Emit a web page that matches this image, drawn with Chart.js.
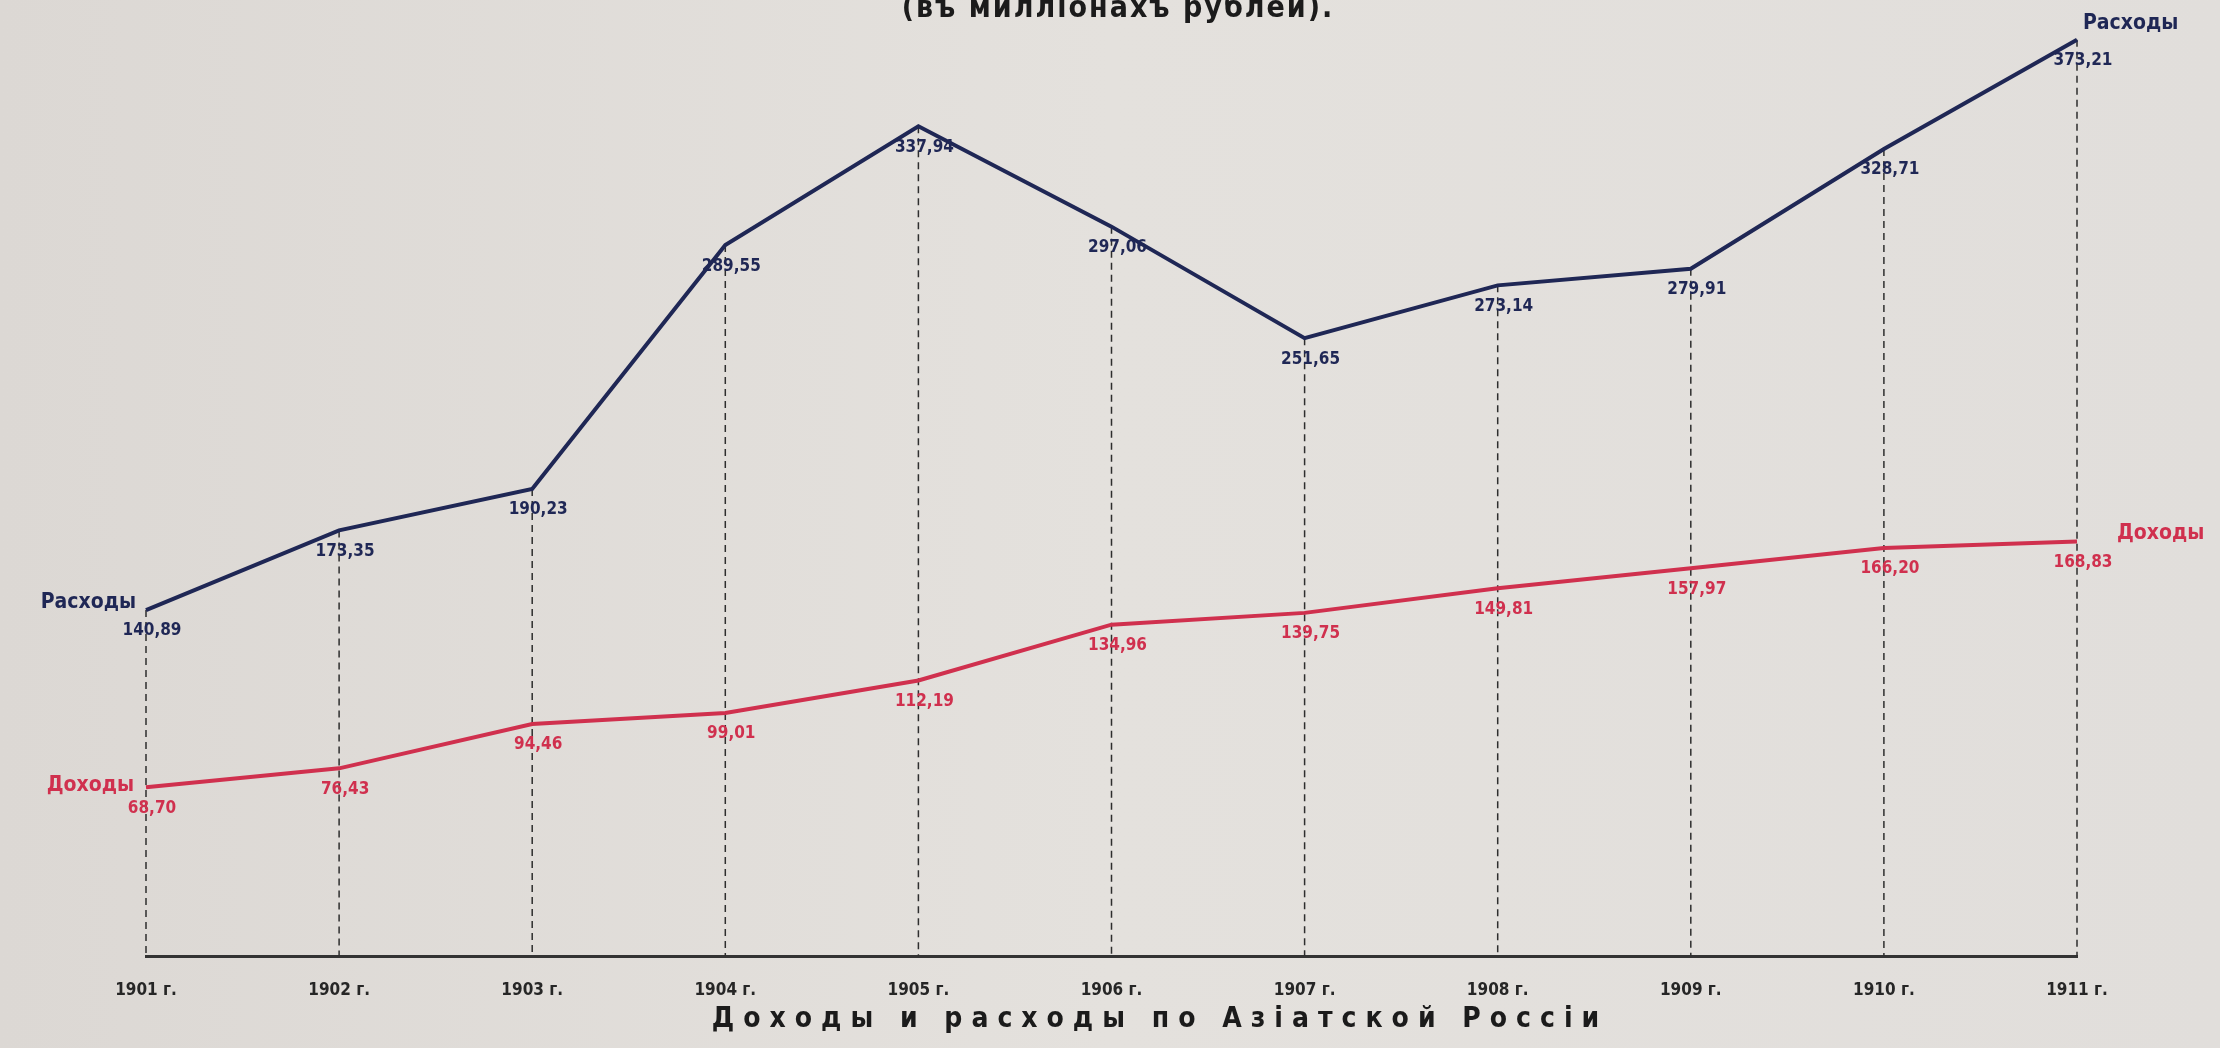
<!DOCTYPE html>
<html lang="ru">
<head>
<meta charset="utf-8">
<title>Доходы и расходы по Азіатской Россіи</title>
<script src="https://cdn.jsdelivr.net/npm/chart.js@4.4.1/dist/chart.umd.min.js"></script>
<style>
  html, body { margin: 0; padding: 0; background: #e2dfdb; }
  #wrap { width: 2220px; height: 1048px; }
</style>
</head>
<body>
<div id="wrap"><canvas id="budgetChart" width="2220" height="1048"></canvas></div>
<script>
// Asian Russia budget, millions of roubles
const years = ['1901 г.', '1902 г.', '1903 г.', '1904 г.', '1905 г.', '1906 г.',
               '1907 г.', '1908 г.', '1909 г.', '1910 г.', '1911 г.'];
const expenses = [140.89, 173.35, 190.23, 289.55, 337.94, 297.06, 251.65, 273.14, 279.91, 328.71, 373.21];
const revenues = [68.70, 76.43, 94.46, 99.01, 112.19, 134.96, 139.75, 149.81, 157.97, 166.20, 168.83];
const seriesNames = ['Расходы', 'Доходы'];

const FONT = '"Liberation Sans Narrow", "DejaVu Sans Condensed", "Liberation Sans", sans-serif';
const NAVY = '#1f2755';
const RED = '#d0304e';

const fmt = v => v.toFixed(2).replace('.', ',');

// paper-coloured background behind everything
const paperPlugin = {
  id: 'paper',
  beforeDraw(chart) {
    const { ctx, width, height } = chart;
    const g = ctx.createLinearGradient(0, 0, width, 0);
    g.addColorStop(0, '#dcd8d4');
    g.addColorStop(0.5, '#e4e1dd');
    g.addColorStop(1, '#e1dedb');
    ctx.save();
    ctx.fillStyle = g;
    ctx.fillRect(0, 0, width, height);
    ctx.restore();
  }
};

// dashed drop lines from each expense point down to the axis
const dropLinesPlugin = {
  id: 'dropLines',
  beforeDatasetsDraw(chart) {
    const { ctx, chartArea } = chart;
    const pts = chart.getDatasetMeta(0).data;
    ctx.save();
    ctx.strokeStyle = '#2e2e2e';
    ctx.lineWidth = 1.5;
    ctx.setLineDash([7, 5]);
    pts.forEach(p => {
      ctx.beginPath();
      ctx.moveTo(p.x, p.y);
      ctx.lineTo(p.x, chartArea.bottom);
      ctx.stroke();
    });
    ctx.restore();
  }
};

// value labels, series names and the two captions
const labelsPlugin = {
  id: 'labels',
  afterDatasetsDraw(chart) {
    const { ctx } = chart;
    ctx.save();
    ctx.textAlign = 'center';
    ctx.textBaseline = 'middle';
    ctx.font = 'bold 17px ' + FONT;

    chart.data.datasets.forEach((ds, di) => {
      const pts = chart.getDatasetMeta(di).data;
      ctx.fillStyle = ds.borderColor;
      ds.data.forEach((v, i) => {
        ctx.fillText(fmt(v), pts[i].x + 6, pts[i].y + 21);
      });
    });

    const e = chart.getDatasetMeta(0).data;
    const r = chart.getDatasetMeta(1).data;
    const last = e.length - 1;
    ctx.font = 'bold 21px ' + FONT;

    ctx.fillStyle = NAVY;
    ctx.textAlign = 'right';
    ctx.fillText(seriesNames[0], e[0].x - 10, e[0].y - 8);
    ctx.textAlign = 'left';
    ctx.fillText(seriesNames[0], e[last].x + 6, e[last].y - 16);

    ctx.fillStyle = RED;
    ctx.textAlign = 'right';
    ctx.fillText(seriesNames[1], r[0].x - 12, r[0].y - 2);
    ctx.textAlign = 'left';
    ctx.fillText(seriesNames[1], r[last].x + 40, r[last].y - 8);

    ctx.fillStyle = '#1b1b1b';
    ctx.textAlign = 'center';
    ctx.textBaseline = 'alphabetic';
    ctx.font = 'bold 30px ' + FONT;
    ctx.letterSpacing = '2px';
    ctx.fillText('(въ милліонахъ рублей).', 1118, 17);

    ctx.font = 'bold 28px ' + FONT;
    ctx.letterSpacing = '9px';
    ctx.textBaseline = 'middle';
    ctx.fillText('Доходы и расходы по Азіатской Россіи', 1160, 1020);
    ctx.restore();
  }
};

new Chart(document.getElementById('budgetChart').getContext('2d'), {
  type: 'line',
  data: {
    labels: years,
    datasets: [
      {
        label: seriesNames[0],
        data: expenses,
        borderColor: NAVY,
        borderWidth: 4,
        pointRadius: 0,
        tension: 0,
        fill: false
      },
      {
        label: seriesNames[1],
        data: revenues,
        borderColor: RED,
        borderWidth: 4,
        pointRadius: 0,
        tension: 0,
        fill: false
      }
    ]
  },
  options: {
    responsive: false,
    animation: false,
    layout: { padding: { left: 146, right: 143, top: 23, bottom: 0 } },
    plugins: {
      legend: { display: false },
      tooltip: { enabled: false }
    },
    scales: {
      x: {
        offset: false,
        grid: { display: false },
        border: { display: true, color: '#333', width: 3 },
        ticks: {
          color: '#262626',
          padding: 16,
          maxRotation: 0,
          autoSkip: false,
          font: { family: FONT, size: 17, weight: 'bold' }
        },
        afterFit(scale) { scale.height = 92; }
      },
      y: {
        display: false,
        min: 0,
        max: 380
      }
    }
  },
  plugins: [paperPlugin, dropLinesPlugin, labelsPlugin]
});
</script>
</body>
</html>
